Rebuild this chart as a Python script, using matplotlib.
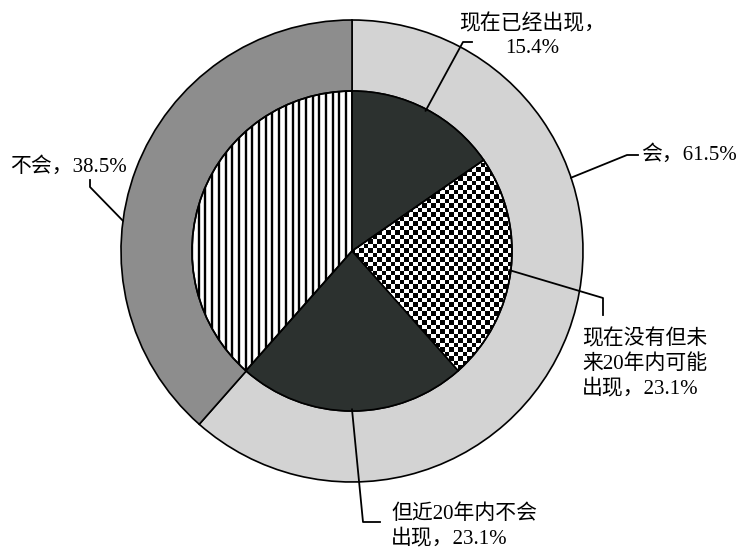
import numpy as np
import matplotlib.pyplot as plt

plt.rcParams['font.family'] = ['Liberation Serif', 'Noto Sans CJK SC']

# outer ring: will it appear at all
ring_labels = ['会', '不会']
ring_values = [61.5, 38.5]
# inner pie: when it appears
pie_labels = ['现在已经出现，\n{}%', '现在没有但未\n来20年内可能\n出现，{}%', '但近20年内不会\n出现，{}%', None]
pie_values = [15.4, 23.1, 23.1, 38.5]

W, H = 750, 547
CX, CY, R = 352, 251, 231          # centre and outer radius in pixels
R_IN = 160 / R


def px(x, y):
    """pixel position (from top-left) -> data coords"""
    return (x - CX) / R, (CY - y) / R


def on_circle(theta, r):
    t = np.deg2rad(theta)
    return r * np.sin(t), r * np.cos(t)


fig = plt.figure(figsize=(W / 100, H / 100), dpi=100)
ax = fig.add_axes([(CX - R) / W, (H - CY - R) / H, 2 * R / W, 2 * R / H])

edge = dict(edgecolor='black', linewidth=1.2)
ring, _ = ax.pie(ring_values, radius=1, startangle=90, counterclock=False,
                 colors=['#d3d3d3', '#8d8d8d'],
                 wedgeprops=dict(width=1 - R_IN, **edge))
inner, _ = ax.pie(pie_values, radius=R_IN, startangle=90, counterclock=False,
                  colors=['#2c312f', 'none', '#2c312f', 'none'],
                  wedgeprops=edge)
ax.set_xlim(-1, 1)
ax.set_ylim(-1, 1)
ax.set_aspect('equal')
ax.axis('off')

# checkerboard fill for the second slice
cell = 4.5 / R
n = int(2 * R_IN / cell) + 2
checker = np.add.outer(np.arange(n), np.arange(n)) % 2
half = n * cell / 2
im = ax.imshow(checker, cmap='gray', extent=(-half, half, -half, half),
               interpolation='nearest', aspect='auto', zorder=0.5)
im.set_clip_path(inner[1])

# vertical stripes for the last slice
period = 6.7 / R
xs = np.arange(-R_IN, R_IN, period)
stripes = ax.vlines(xs, -R_IN, R_IN, color='black', lw=1.7, zorder=0.5)
stripes.set_clip_path(inner[3])

# mid angles of the inner slices (clockwise from 12 o'clock)
total = sum(pie_values)
edges = np.concatenate([[0], np.cumsum(pie_values)]) / total * 360
mids = (edges[:-1] + edges[1:]) / 2

font = dict(fontsize=15, color='black', linespacing=1.3)
lw = 1.3

# inner slice callouts: (slice, elbow points, text position, alignment)
inner_callouts = [
    (0, [(463, 42), (472, 42)], (532, 36), 'center', 'center'),
    (1, [(603, 298), (603, 315)], (582, 329), 'left', 'top'),
    (2, [(363, 522), (380, 522)], (391, 526), 'left', 'center'),
]
for i, elbows, pos, ha, va in inner_callouts:
    pts = [on_circle(mids[i], R_IN * 0.99)] + [px(*p) for p in elbows]
    ax.plot(*zip(*pts), color='black', lw=lw, clip_on=False)
    ax.text(*px(*pos), pie_labels[i].format(pie_values[i]), ha=ha, va=va,
            multialignment='center' if ha == 'center' else 'left', **font)

# outer ring callouts: (slice, anchor angle, elbow points, text position)
ring_callouts = [
    (0, 71.5, [(627, 155), (638, 155)], (641, 155)),
    (1, 277.5, [(90, 187), (90, 180)], (10, 167)),
]
for i, ang, elbows, pos in ring_callouts:
    pts = [on_circle(ang, 1.0)] + [px(*p) for p in elbows]
    ax.plot(*zip(*pts), color='black', lw=lw, clip_on=False)
    ax.text(*px(*pos), f'{ring_labels[i]}，{ring_values[i]}%',
            ha='left', va='center', **font)

fig.savefig('out.png', dpi=100)
